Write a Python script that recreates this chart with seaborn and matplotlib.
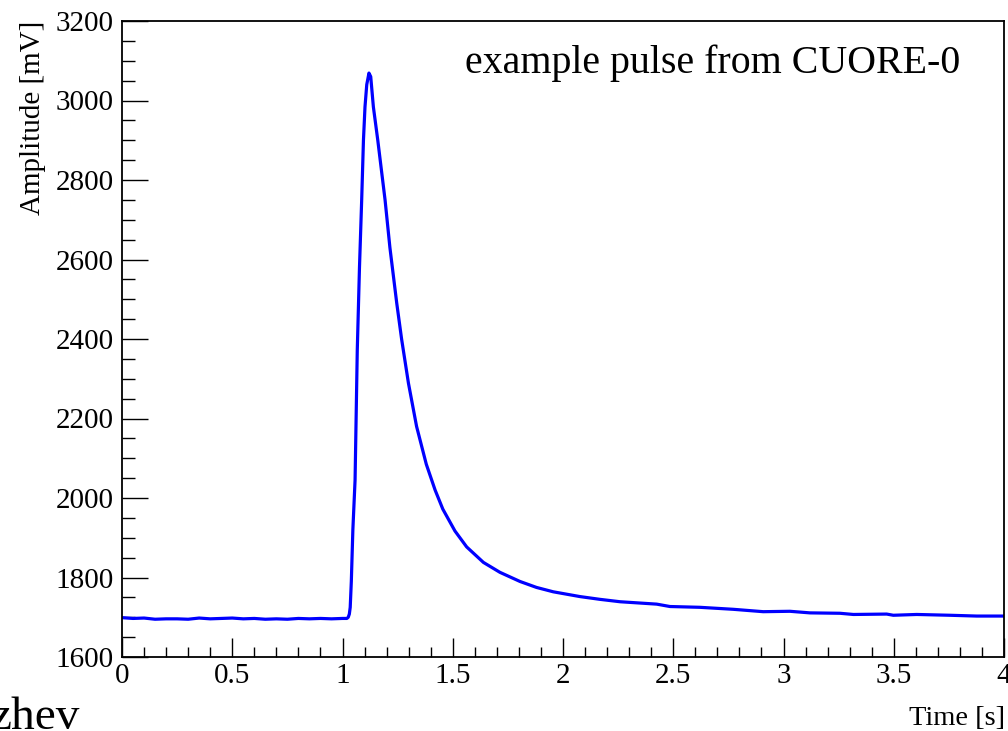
import numpy as np
import pandas as pd
import matplotlib
matplotlib.use("Agg")
import matplotlib.pyplot as plt
import seaborn as sns
from matplotlib.ticker import MultipleLocator

# ---- data ----
time_s = [0.00, 0.05, 0.10, 0.15, 0.20, 0.25, 0.30, 0.35, 0.40, 0.45,
          0.50, 0.55, 0.60, 0.65, 0.70, 0.75, 0.80, 0.85, 0.90, 0.95,
          1.00, 1.02, 1.026, 1.031, 1.035, 1.040, 1.047, 1.057, 1.067, 1.077,
          1.087, 1.095, 1.102, 1.110, 1.120, 1.128, 1.140, 1.160, 1.178, 1.193,
          1.215, 1.246, 1.268, 1.299, 1.336, 1.380, 1.420, 1.455, 1.510, 1.563,
          1.639, 1.714, 1.805, 1.880, 1.956, 2.077, 2.168, 2.259, 2.425, 2.485,
          2.621, 2.772, 2.908, 3.029, 3.120, 3.256, 3.317, 3.468, 3.498, 3.604,
          3.755, 3.876, 4.000]
amplitude_mv = [1699, 1697, 1698, 1695, 1696, 1696, 1695, 1698, 1696, 1697,
                1698, 1696, 1697, 1695, 1696, 1695, 1697, 1696, 1697, 1696,
                1697, 1697, 1700, 1708, 1725, 1790, 1920, 2045, 2372, 2580,
                2750, 2900, 2984, 3040, 3069, 3060, 2984, 2900, 2818, 2750,
                2630, 2490, 2400, 2289, 2180, 2085, 2020, 1972, 1917, 1877,
                1838, 1813, 1790, 1775, 1764, 1752, 1745, 1739, 1733, 1727,
                1725, 1720, 1714, 1715, 1711, 1710, 1707, 1708, 1705, 1707,
                1705, 1703, 1703]

x_label = "Time [s]"
y_label = "Amplitude [mV]"
title_text = "example pulse from CUORE-0"
corner_text = "zhev"

df = pd.DataFrame({"time": time_s, "amp": amplitude_mv})

sns.set_theme(style="ticks")
plt.rcParams["font.family"] = ["Liberation Serif", "DejaVu Serif"]

fig = plt.figure(figsize=(10.08, 7.31), dpi=100)
ax = fig.add_axes([122 / 1008, 74 / 731, 882 / 1008, 636 / 731])

sns.lineplot(data=df, x="time", y="amp", ax=ax, color=(0, 0, 1),
             linewidth=2.3, estimator=None, sort=True)

ax.set_xlim(0, 4)
ax.set_ylim(1600, 3200)
ax.xaxis.set_major_locator(MultipleLocator(0.5))
ax.xaxis.set_minor_locator(MultipleLocator(0.1))
ax.yaxis.set_major_locator(MultipleLocator(200))
ax.yaxis.set_minor_locator(MultipleLocator(50))
ax.xaxis.set_major_formatter(matplotlib.ticker.FuncFormatter(lambda v, p: f"{v:g}"))

ax.tick_params(axis="both", which="both", direction="in", colors="black",
               labelcolor="black", top=False, right=False, labelsize=21, width=1.0)
ax.tick_params(axis="x", which="major", length=14, pad=4.5)
ax.tick_params(axis="x", which="minor", length=7)
ax.tick_params(axis="y", which="major", length=19, pad=6)
ax.tick_params(axis="y", which="minor", length=9.5)

for s in ax.spines.values():
    s.set_visible(True)
    s.set_color("black")
    s.set_linewidth(1.3)

ax.set_xlabel(x_label, fontsize=20.5, loc="right", color="black")
ax.set_ylabel(y_label, fontsize=21, loc="top", color="black")
ax.xaxis.set_label_coords(1.001, -0.077)
ax.yaxis.set_label_coords(-0.0865, 1.0)

ax.text(0.950, 0.918, title_text, transform=ax.transAxes, ha="right",
        va="baseline", fontsize=28.7, color="black")

fig.text(80 / 1008, 2 / 731, corner_text, ha="right", va="baseline",
         fontsize=34, color="black")

ax.grid(False)
fig.savefig("out.png", dpi=100, facecolor="white")
